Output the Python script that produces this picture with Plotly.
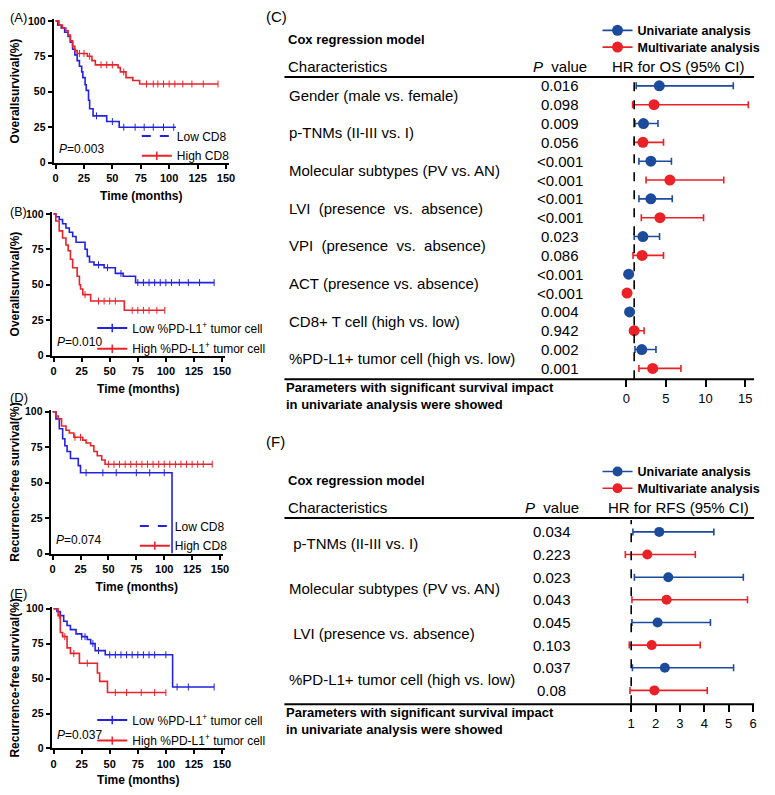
import plotly.graph_objects as go

W, H = 775, 795
# the page keeps the browser's 8px body margin, so the figure is made 16px smaller
OX, OY = 8, 8
FW, FH = W - 2 * OX, H - 2 * OY
FONT = "Arial, Liberation Sans, sans-serif"
BLUE_KM = "#2222e0"
RED_KM = "#e8232b"
BLUE_F = "#1c4b9c"
RED_F = "#ea2127"

# ---- Kaplan-Meier curves: time (months) / survival (%) / censored times ----
# (A) overall survival, CD8
a_low_t = [0, 2, 5, 8, 11, 13, 15, 17, 19, 21, 23, 24, 26, 27, 29, 30, 33, 45, 56, 106]
a_low_s = [100, 97, 95, 92, 89, 85, 80, 76, 72, 68, 64, 60, 55, 51, 44, 38, 33, 29, 25, 25]
a_low_c = [36, 50, 60, 70, 78, 86, 95, 104]
a_high_t = [0, 3, 6, 9, 11, 13, 15, 17, 19, 28, 32, 35, 55, 57, 62, 68, 74, 143]
a_high_s = [100, 97, 95, 93, 90, 86, 82, 79, 77, 75, 72, 69, 67, 64, 60, 58, 55.5, 55.5]
a_high_c = [21, 25, 30, 40, 45, 50, 60, 80, 86, 90, 95, 100, 105, 112, 120, 130, 143]

# (B) overall survival, %PD-L1+ tumor cell
b_low_t = [0, 2, 5, 8, 11, 14, 17, 20, 28, 30, 32, 36, 45, 55, 62, 73, 143]
b_low_s = [100, 98, 96, 93, 90, 87, 84, 80, 75, 70, 66, 64, 62, 58, 56, 51.5, 51.5]
b_low_c = [40, 48, 60, 75, 80, 85, 90, 95, 100, 105, 112, 120, 130, 143]
b_high_t = [0, 2, 5, 8, 11, 13, 15, 17, 21, 23, 24, 26, 33, 63, 99]
b_high_s = [100, 95, 88, 83, 78, 74, 68, 62, 56, 50, 47, 43, 38.5, 32, 32]
b_high_c = [28, 40, 45, 50, 55, 70, 75, 80, 85, 92, 99]

# (D) recurrence-free survival, CD8
d_low_t = [0, 3, 6, 9, 11, 13, 16, 23, 25, 107]
d_low_s = [100, 95, 88, 81, 76, 72, 67, 62, 57, 0]
d_low_c = [30, 45, 57, 75, 87, 100]
d_high_t = [0, 3, 5, 8, 12, 15, 19, 27, 30, 34, 37, 40, 44, 47, 143]
d_high_s = [100, 97, 95, 90, 87, 85, 82, 80, 78, 76, 72, 69, 66, 63, 63]
d_high_c = [20, 25, 50, 55, 60, 65, 70, 75, 80, 85, 90, 95, 100, 105, 110, 115, 120, 125, 130, 135, 143]

# (E) recurrence-free survival, %PD-L1+ tumor cell
e_low_t = [0, 3, 6, 9, 12, 15, 20, 25, 30, 33, 37, 46, 106, 143]
e_low_s = [100, 98, 95, 91, 88, 85, 82, 80, 78, 75, 70, 67, 44, 44]
e_low_c = [25, 28, 35, 40, 50, 55, 60, 65, 70, 75, 80, 85, 90, 100, 110, 120, 143]
e_high_t = [0, 4, 6, 8, 12, 15, 23, 39, 41, 48, 100]
e_high_s = [100, 95, 83, 80, 72, 68, 61, 54, 48, 40, 40]
e_high_c = [5, 10, 18, 30, 55, 65, 78, 90, 100]

km_ticks_x = [0, 25, 50, 75, 100, 125, 150]
km_ticks_y = [0, 25, 50, 75, 100]

# ---- Cox regression, OS (C) ----
os_labels = ["Gender (male vs. female)", "p-TNMs (II-III vs. I)", "Molecular subtypes (PV vs. AN)",
             "LVI  (presence  vs.  absence)", "VPI  (presence  vs.  absence)", "ACT (presence vs. absence)",
             "CD8+ T cell (high vs. low)", "%PD-L1+ tumor cell (high vs. low)"]
os_p_uni = ["0.016", "0.009", "<0.001", "<0.001", "0.023", "<0.001", "0.004", "0.002"]
os_p_multi = ["0.098", "0.056", "<0.001", "<0.001", "0.086", "<0.001", "0.942", "0.001"]
os_hr_uni = [4.17, 2.17, 3.1, 3.1, 2.1, 0.3, 0.42, 1.96]
os_lo_uni = [1.25, 1.1, 1.6, 1.6, 1.0, 0.2, 0.25, 1.1]
os_hi_uni = [13.5, 4.0, 5.7, 5.8, 4.2, 0.5, 0.7, 3.75]
os_hr_multi = [3.5, 2.1, 5.5, 4.25, 2.0, 0.1, 1.0, 3.33]
os_lo_multi = [0.8, 1.0, 2.5, 1.9, 0.85, 0.05, 0.7, 1.6]
os_hi_multi = [15.4, 4.7, 12.3, 9.75, 4.7, 0.25, 2.25, 6.9]
os_ticks = [0, 5, 10, 15]

# ---- Cox regression, RFS (F) ----
rfs_labels = [" p-TNMs (II-III vs. I)", "Molecular subtypes (PV vs. AN)",
              " LVI (presence vs. absence)", "%PD-L1+ tumor cell (high vs. low)"]
rfs_p_uni = ["0.034", "0.023", "0.045", "0.037"]
rfs_p_multi = ["0.223", "0.043", "0.103", "0.08"]
rfs_hr_uni = [2.15, 2.52, 2.08, 2.38]
rfs_lo_uni = [1.07, 1.13, 1.03, 1.05]
rfs_hi_uni = [4.39, 5.6, 4.25, 5.2]
rfs_hr_multi = [1.66, 2.45, 1.84, 1.95]
rfs_lo_multi = [0.76, 1.03, 0.92, 0.95]
rfs_hi_multi = [3.63, 5.77, 3.83, 4.12]
rfs_ticks = [1, 2, 3, 4, 5, 6]


def px(p):
    return (p - OX) / FW


def py(p):
    return 1 - (p - OY) / FH


def step_at(ts, ss, t):
    v = ss[0]
    for ti, si in zip(ts, ss):
        if ti <= t:
            v = si
    return v


fig = go.Figure()
layout = {}
annotations = []
shapes = []
leg_count = [1]


def text(s, x, y, size, bold=False, xanchor="left"):
    annotations.append(dict(
        text=s, x=px(x), y=py(y), xref="paper", yref="paper", xanchor=xanchor, yanchor="middle",
        showarrow=False, borderpad=0, font=dict(family=FONT, size=size, color="black",
                                                weight="bold" if bold else "normal")))


def legend_entry(trace, text_x, y, size, bold=False):
    # one legend per entry so every entry can be placed on its own row
    leg_count[0] += 1
    name = "legend%d" % leg_count[0]
    trace.update(legend=name, showlegend=True)
    fig.add_trace(trace)
    layout[name] = dict(x=px(text_x - 40), y=py(y), xanchor="left", yanchor="middle",
                        bgcolor="rgba(0,0,0,0)", itemwidth=30, borderwidth=0,
                        font=dict(family=FONT, size=size, color="black",
                                  weight="bold" if bold else "normal"))


# ---- KM panels ----
km_panels = [
    # n, x0px, x150px, y100px, y0px, ytitle, curves, legend labels, dashed low legend, p,
    # label, label y, label size, legend text x, legend y
    (1, 55, 227, 16, 160, "Overallsurvival(%)",
     [(a_low_t, a_low_s, a_low_c), (a_high_t, a_high_s, a_high_c)],
     ["Low CD8", "High CD8"], True, "0.003", "(A)", 13, 13, 177, (133, 153)),
    (2, 53, 223, 212, 356, "Overallsurvival(%)",
     [(b_low_t, b_low_s, b_low_c), (b_high_t, b_high_s, b_high_c)],
     ["Low %PD-L1<sup>+</sup> tumor cell", "High %PD-L1<sup>+</sup> tumor cell"], False, "0.010", "(B)", 210, 12.5,
     132, (328, 349)),
    (3, 52, 221, 413, 557, "Recurrence-free survival(%)",
     [(d_low_t, d_low_s, d_low_c), (d_high_t, d_high_s, d_high_c)],
     ["Low CD8", "High CD8"], True, "0.074", "(D)", 399, 13, 175, (529, 549)),
    (4, 53, 223, 613, 755, "Recurrence-free survival(%)",
     [(e_low_t, e_low_s, e_low_c), (e_high_t, e_high_s, e_high_c)],
     ["Low %PD-L1<sup>+</sup> tumor cell", "High %PD-L1<sup>+</sup> tumor cell"], False, "0.037", "(E)", 598, 13,
     132, (726, 747)),
]

for (n, x0, x150, y100, y0, ytitle, curves, labels, dashed, pval,
     plabel, plabel_y, plabel_size, leg_x, leg_y) in km_panels:
    ppm = (x150 - x0) / 150
    left, right = x0 - 2, x150 + 3
    ppp = (y0 - y100) / 100
    top = y0 - 101 * ppp
    xa, ya = "x%d" % n, "y%d" % n
    sfx = "" if n == 1 else str(n)
    layout["xaxis" + sfx] = dict(
        domain=[px(left), px(right)], range=[(left - x0) / ppm, (right - x0) / ppm], anchor=ya,
        tickvals=km_ticks_x, ticks="outside", ticklen=4, tickwidth=2, tickcolor="black",
        showline=True, linewidth=2, linecolor="black", showgrid=False, zeroline=False,
        tickfont=dict(family=FONT, size=11, color="black", weight="bold"),
        title=dict(text="Time (months)", standoff=9, font=dict(family=FONT, size=12, color="black", weight="bold")))
    layout["yaxis" + sfx] = dict(
        domain=[py(y0), py(top)], range=[0, 101], anchor=xa,
        tickvals=km_ticks_y, ticks="outside", ticklen=4, tickwidth=2, tickcolor="black",
        showline=True, linewidth=2, linecolor="black", showgrid=False, zeroline=False,
        tickfont=dict(family=FONT, size=10.5, color="black", weight="bold"),
        title=dict(text=ytitle, standoff=7, font=dict(family=FONT, size=12, color="black", weight="bold")))
    for (ts, ss, cs), col in zip(curves, [BLUE_KM, RED_KM]):
        fig.add_trace(go.Scatter(x=ts, y=ss, mode="lines", line=dict(color=col, width=1.6, shape="hv"),
                                 xaxis=xa, yaxis=ya, showlegend=False, hoverinfo="skip"))
        fig.add_trace(go.Scatter(x=cs, y=[step_at(ts, ss, c) for c in cs], mode="markers",
                                 marker=dict(symbol="line-ns", size=5, line=dict(color=col, width=1)),
                                 xaxis=xa, yaxis=ya, showlegend=False, hoverinfo="skip"))
    legend_entry(go.Scatter(x=[None], y=[None], mode="lines" if dashed else "lines+markers", name=labels[0],
                            line=dict(color=BLUE_KM, width=2, dash="dash" if dashed else "solid"),
                            marker=dict(symbol="line-ns", size=6, line=dict(color=BLUE_KM, width=1.5)),
                            xaxis=xa, yaxis=ya), leg_x, leg_y[0], 12)
    legend_entry(go.Scatter(x=[None], y=[None], mode="lines+markers", name=labels[1],
                            line=dict(color=RED_KM, width=2),
                            marker=dict(symbol="line-ns", size=6, line=dict(color=RED_KM, width=1.5)),
                            xaxis=xa, yaxis=ya), leg_x, leg_y[1], 12)
    text("<i>P</i>=" + pval, x0 + 2, y0 - 14, 12)
    text(plabel, 8, plabel_y, plabel_size)

# ---- forest panels ----
forest_panels = [
    # n, labels, p uni, p multi, (hr, lo, hi) uni, (hr, lo, hi) multi, ticks, ref px, px per unit, ref value,
    # top line y, first row y, row step, bottom line y, label y, label, p column x, HR title, marker size, legend y
    (5, os_labels, os_p_uni, os_p_multi, (os_hr_uni, os_lo_uni, os_hi_uni),
     (os_hr_multi, os_lo_multi, os_hi_multi), os_ticks, 631, 8.0, 0,
     73, 82, 19.13, 380, 12, "(C)", 564, "HR for OS (95% CI)", 11, (26, 43)),
    (6, rfs_labels, rfs_p_uni, rfs_p_multi, (rfs_hr_uni, rfs_lo_uni, rfs_hi_uni),
     (rfs_hr_multi, rfs_lo_multi, rfs_hi_multi), rfs_ticks, 636, 24.6, 1,
     521, 535, 23.0, 710, 443, "(F)", 556, "HR for RFS (95% CI)", 10, (474, 491)),
]

for (n, labels, pu, pm, uni, multi, ticks, ref_px, unit_px, ref_val,
     top_y, row0_y, step, bot_y, plabel_y, plabel, pcol, hrtitle, msize, leg_y) in forest_panels:
    xa, ya = "x%d" % n, "y%d" % n
    dom_l, dom_r = 620, 762
    layout["xaxis%d" % n] = dict(
        domain=[px(dom_l), px(dom_r)],
        range=[ref_val + (dom_l - ref_px) / unit_px, ref_val + (dom_r - ref_px) / unit_px], anchor=ya,
        tickvals=ticks, ticks="outside", ticklen=7, tickwidth=1.6, tickcolor="black",
        showline=False, showgrid=False, zeroline=False,
        tickfont=dict(family=FONT, size=13, color="black"))
    layout["yaxis%d" % n] = dict(
        domain=[py(bot_y), py(top_y)],
        range=[(bot_y - row0_y) / step, (top_y - row0_y) / step], anchor=xa, visible=False)
    nrow = len(labels)
    uni_rows = [2 * i for i in range(nrow)]
    multi_rows = [2 * i + 1 for i in range(nrow)]
    for (hr, lo, hi), rows, col in [(uni, uni_rows, BLUE_F), (multi, multi_rows, RED_F)]:
        fig.add_trace(go.Scatter(
            x=hr, y=rows, mode="markers", marker=dict(color=col, size=msize),
            error_x=dict(type="data", symmetric=False, array=[h - m for h, m in zip(hi, hr)],
                         arrayminus=[m - l for m, l in zip(hr, lo)], color=col, thickness=1.6, width=3.5),
            xaxis=xa, yaxis=ya, showlegend=False, hoverinfo="skip"))
    for name, col, yy in [("Univariate analysis", BLUE_F, leg_y[0]), ("Multivariate analysis", RED_F, leg_y[1])]:
        legend_entry(go.Scatter(x=[None], y=[None], mode="lines+markers", name=name,
                                line=dict(color=col, width=1.6), marker=dict(color=col, size=msize),
                                xaxis=xa, yaxis=ya), 642, yy, 12.5, bold=True)
    for i, lab in enumerate(labels):
        annotations.append(dict(text=lab, x=px(289), y=2 * i + 0.5, xref="paper", yref=ya,
                                xanchor="left", yanchor="middle", showarrow=False,
                                font=dict(family=FONT, size=15, color="black")))
        for r, p in [(uni_rows[i], pu[i]), (multi_rows[i], pm[i])]:
            annotations.append(dict(text=p, x=px(pcol), y=r, xref="paper", yref=ya,
                                    xanchor="center", yanchor="middle", showarrow=False,
                                    font=dict(family=FONT, size=15, color="black")))
    text(plabel, 266, plabel_y, 15)
    text("Cox regression model", 289, top_y - 38, 13, bold=True)
    text("Characteristics", 289, top_y - 11, 15)
    text("<i>P</i>  value", pcol, top_y - 11, 15, xanchor="center")
    text(hrtitle, 684, top_y - 11, 15, xanchor="center")
    text("Parameters with significant survival impact", 287, bot_y + 8, 13, bold=True)
    text("in univariate analysis were showed", 287, bot_y + 26, 13, bold=True)
    for yy in (top_y, bot_y):
        shapes.append(dict(type="line", xref="paper", yref="paper", x0=px(286), x1=px(760),
                           y0=py(yy), y1=py(yy), line=dict(color="black", width=2)))
    shapes.append(dict(type="line", xref=xa, yref=ya + " domain", x0=1, x1=1, y0=0, y1=0.99,
                       line=dict(color="black", width=1.6, dash="dash")))

fig.update_layout(
    width=FW, height=FH, margin=dict(l=0, r=0, t=0, b=0),
    paper_bgcolor="white", plot_bgcolor="white",
    font=dict(family=FONT, color="black"), showlegend=True,
    annotations=annotations, shapes=shapes, **layout)

fig.write_html("out.html")
